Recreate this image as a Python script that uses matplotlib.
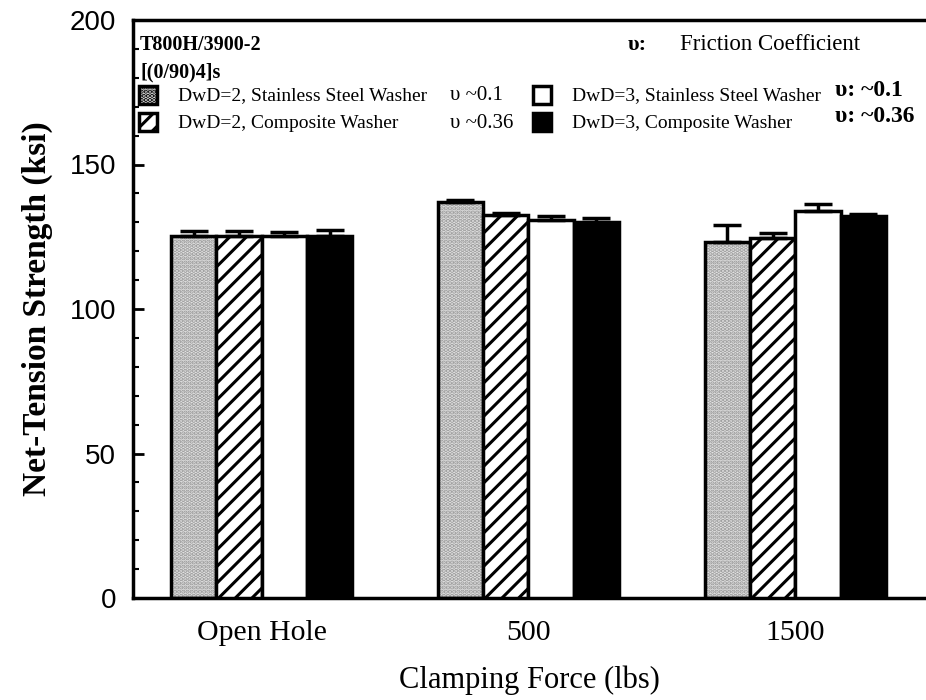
import numpy as np
import matplotlib
matplotlib.use('Agg')
import matplotlib.pyplot as plt
from matplotlib.patches import Rectangle

#%% data

groups = ['Open Hole', '500', '1500']
series = ['DwD=2, Stainless Steel Washer', 'DwD=2, Composite Washer',
          'DwD=3, Stainless Steel Washer', 'DwD=3, Composite Washer']
nu_labels = ['υ ~0.1', 'υ ~0.36', 'υ: ~0.1', 'υ: ~0.36']

ss2 = [125.2, 136.9, 123.1]
cw2 = [125.2, 132.6, 124.6]
ss3 = [125.2, 130.8, 134.0]
cw3 = [125.4, 130.0, 132.3]
err_ss2 = [1.8, 0.8, 6.0]
err_cw2 = [1.8, 0.6, 1.6]
err_ss3 = [1.6, 1.4, 2.3]
err_cw3 = [1.8, 1.6, 0.4]

#%% style

plt.rcParams['hatch.linewidth'] = 2.2
serif = 'Liberation Serif'
sans = 'Liberation Sans'

fig = plt.figure(figsize=(9.26, 7.0), dpi=100)
ax = fig.add_axes([133/926, 102/700, 1 - 133/926, 578/700])

x = np.arange(len(groups))
w = 0.17
offs = [-1.5*w, -0.5*w, 0.5*w, 1.5*w]

ek = dict(ecolor='k', elinewidth=2.5, capthick=2.5, capsize=10)

# stippled gray
ax.bar(x+offs[0], ss2, w, color='#e2e2e2', edgecolor='#9a9a9a', hatch='....', lw=0, zorder=2)
ax.bar(x+offs[0], ss2, w, facecolor='none', edgecolor='k', lw=2.5, zorder=3)
ax.errorbar(x+offs[0], ss2, yerr=[np.zeros(3), err_ss2], fmt='none', zorder=4, **ek)
# hatched
ax.bar(x+offs[1], cw2, w, color='white', edgecolor='k', hatch='//', lw=2.5, zorder=3)
ax.errorbar(x+offs[1], cw2, yerr=[np.zeros(3), err_cw2], fmt='none', zorder=4, **ek)
# white
ax.bar(x+offs[2], ss3, w, color='white', edgecolor='k', lw=2.5, zorder=3)
ax.errorbar(x+offs[2], ss3, yerr=[np.zeros(3), err_ss3], fmt='none', zorder=4, **ek)
# black
ax.bar(x+offs[3], cw3, w, color='k', edgecolor='k', lw=2.5, zorder=3)
ax.errorbar(x+offs[3], cw3, yerr=[np.zeros(3), err_cw3], fmt='none', zorder=4, **ek)

ax.set_xlim(-0.482, 2.49)
ax.set_ylim(0, 200)
ax.set_yticks([0, 50, 100, 150, 200])
ax.set_yticks(np.arange(0, 201, 10), minor=True)
ax.set_xticks(x)
ax.set_xticklabels(groups, fontsize=21.5, fontfamily=serif)
ax.tick_params(axis='x', length=0, pad=16)
ax.tick_params(axis='y', which='major', direction='in', length=8, width=2, labelsize=20, pad=12)
ax.tick_params(axis='y', which='minor', direction='in', length=4, width=1.5)
for t in ax.get_yticklabels():
    t.set_fontfamily(sans)
ax.spines['right'].set_visible(False)
for s in ['left', 'bottom', 'top']:
    ax.spines[s].set_linewidth(2.5)

ax.set_xlabel('Clamping Force (lbs)', fontsize=22, fontfamily=serif, labelpad=14)
ax.set_ylabel('Net-Tension Strength (ksi)', fontsize=24, fontfamily=serif,
              fontweight='bold', labelpad=12)

#%% annotations / legend

def px(xp, yp):
    return (xp-133)/793, (598-yp)/578

ax.text(*px(140, 45), 'T800H/3900-2', transform=ax.transAxes, fontsize=14.5,
        fontfamily=serif, fontweight='bold', va='center')
ax.text(*px(140, 72), '[(0/90)4]s', transform=ax.transAxes, fontsize=14.5,
        fontfamily=serif, fontweight='bold', va='center')
ax.text(*px(628, 45), 'υ:', transform=ax.transAxes, fontsize=16,
        fontfamily=serif, fontweight='bold', va='center')
ax.text(*px(680, 45), 'Friction Coefficient', transform=ax.transAxes, fontsize=16.5,
        fontfamily=serif, va='center')

box_pos = [(139, 95), (139, 122), (533, 95), (533, 122)]
styles = [dict(facecolor='#e2e2e2', hatch='....'),
          dict(facecolor='white', hatch='//'),
          dict(facecolor='white'),
          dict(facecolor='k')]
for i in range(4):
    bx, by = box_pos[i]
    x0, y0 = px(bx, by+9)
    r = Rectangle((x0, y0), 18/793, 18/578, transform=ax.transAxes,
                  edgecolor='k', lw=2.5, zorder=5, **styles[i])
    ax.add_patch(r)
    ax.text(*px(bx+39, by+1), series[i], transform=ax.transAxes, fontsize=14,
            fontfamily=serif, va='center')

ax.text(*px(450, 96), nu_labels[0], transform=ax.transAxes, fontsize=15,
        fontfamily=serif, va='center')
ax.text(*px(450, 123), nu_labels[1], transform=ax.transAxes, fontsize=15,
        fontfamily=serif, va='center')
ax.text(*px(835, 90), nu_labels[2], transform=ax.transAxes, fontsize=17,
        fontfamily=serif, fontweight='bold', va='center')
ax.text(*px(835, 116), nu_labels[3], transform=ax.transAxes, fontsize=17,
        fontfamily=serif, fontweight='bold', va='center')

fig.savefig('out.png', dpi=100)
